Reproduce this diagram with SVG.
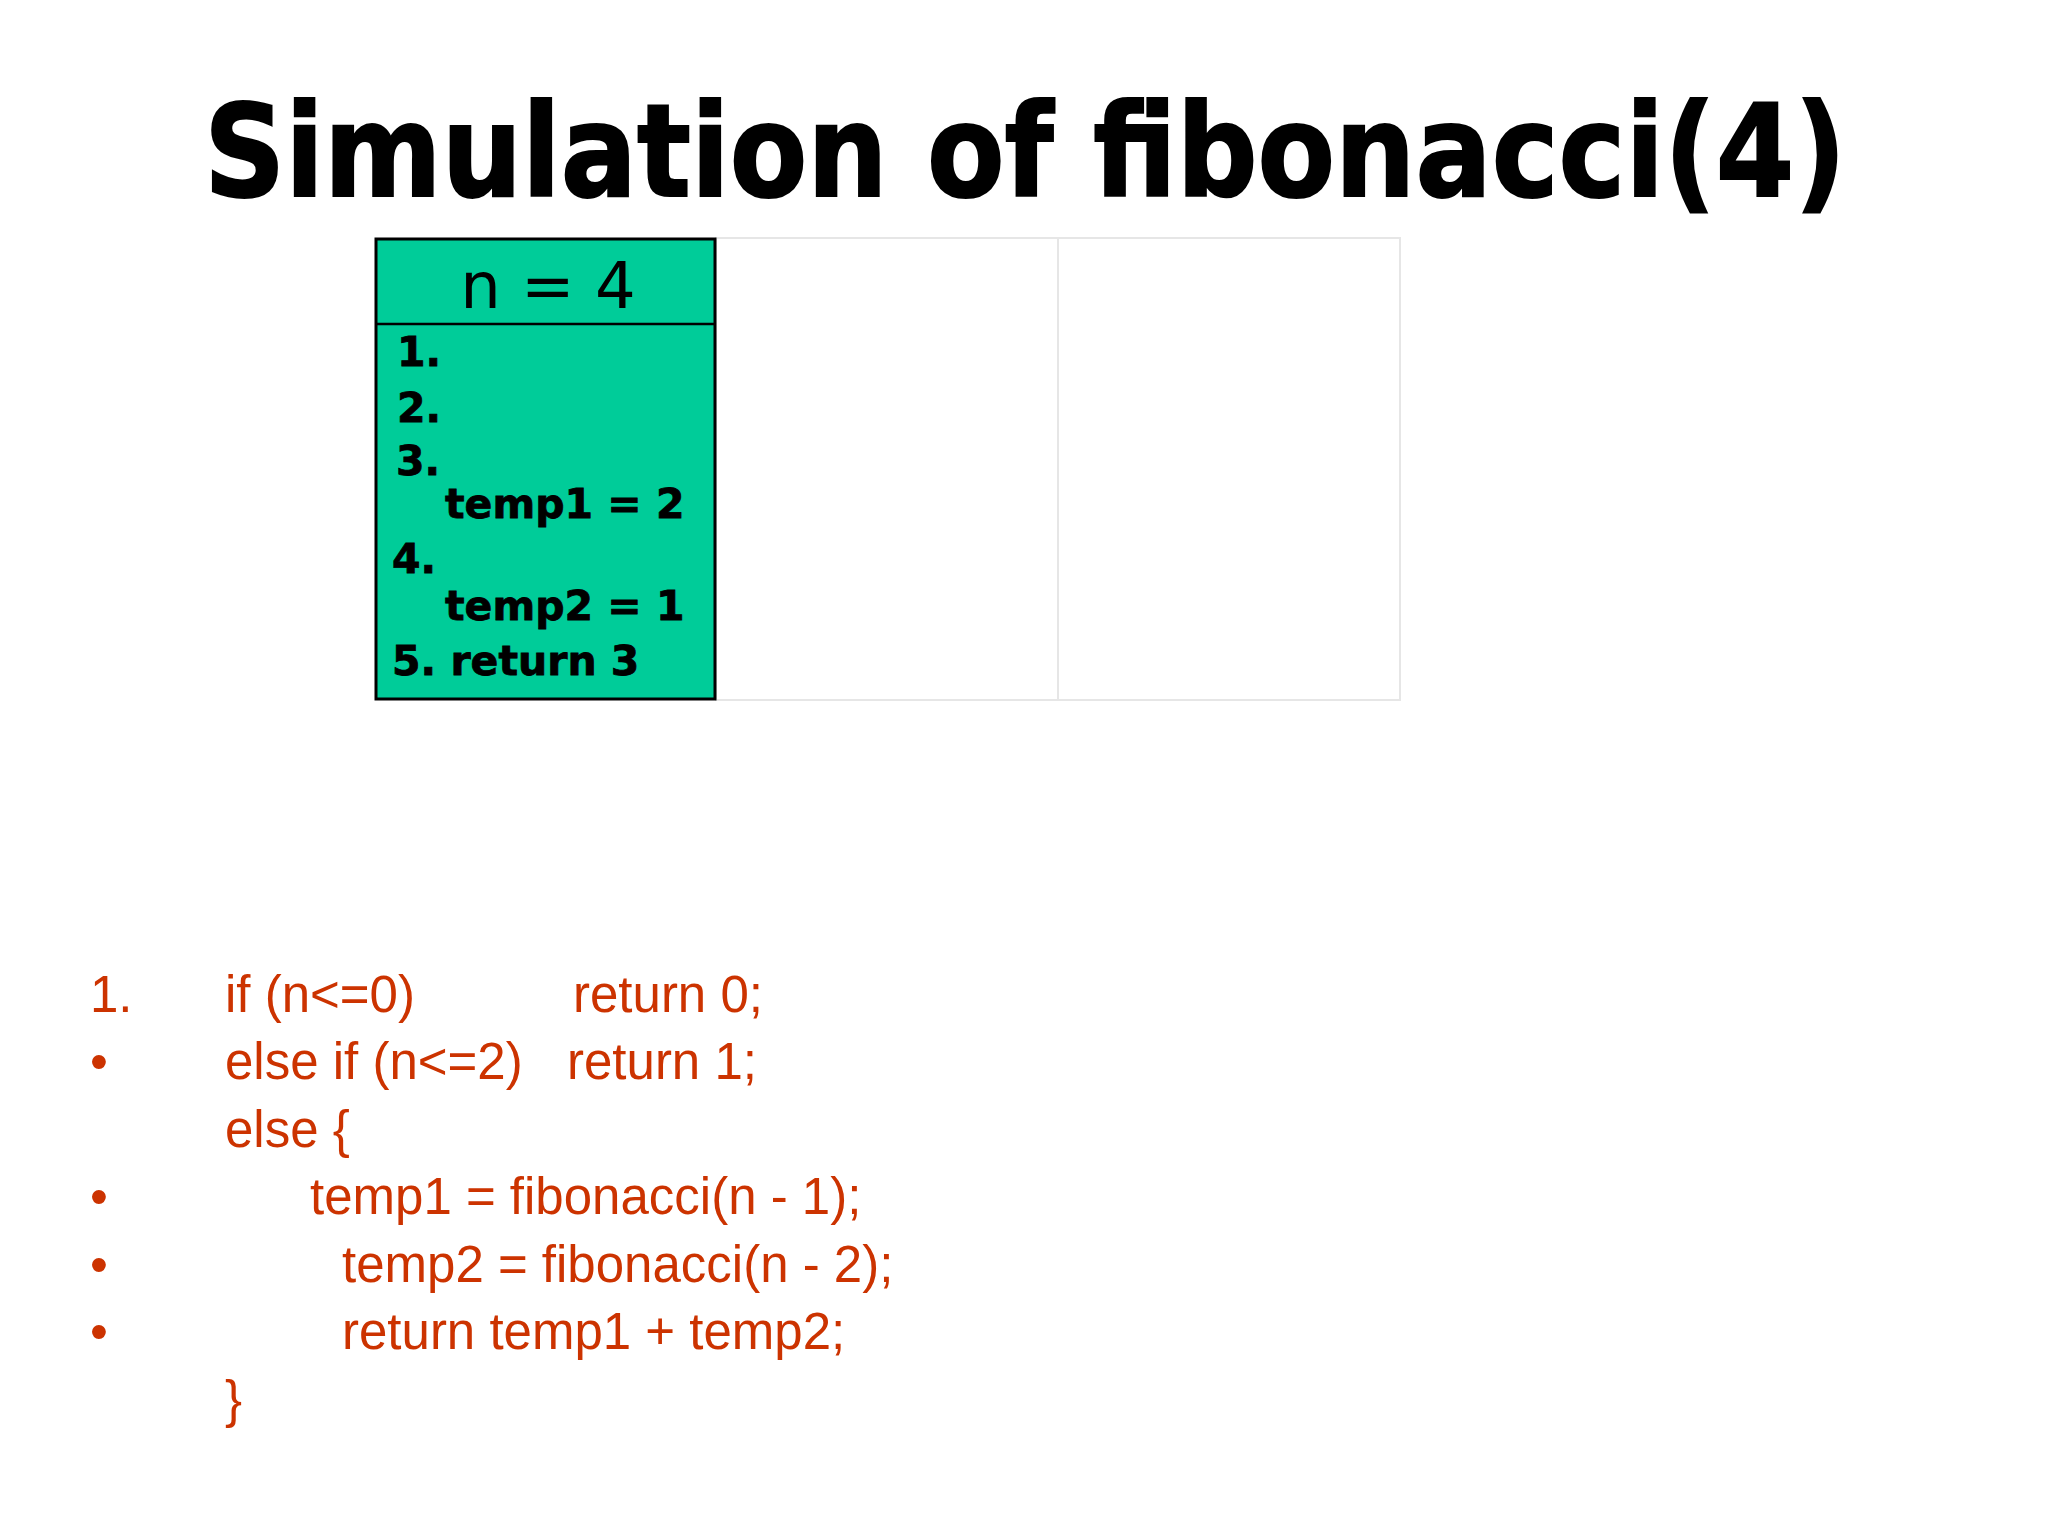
<svg xmlns="http://www.w3.org/2000/svg" width="2048" height="1536" viewBox="0 0 2048 1536">
<style>
.title{font-family:"DejaVu Sans",Verdana,sans-serif;font-weight:bold;font-size:128px;fill:#000;stroke:#000;stroke-width:2}
.head{font-family:"DejaVu Sans",Verdana,sans-serif;font-size:64px;fill:#000}
.body{font-family:"DejaVu Sans",Verdana,sans-serif;font-weight:bold;font-size:41px;fill:#000;stroke:#000;stroke-width:0.8}
.code{font-family:"Liberation Sans",Arial,sans-serif;font-size:51px;fill:#CC3300}
.cell{fill:#fff;stroke:#e6e6e6;stroke-width:2}
</style>
<rect width="2048" height="1536" fill="#fff"/>
<g id="title">
<text class="title" x="204" y="196" textLength="1642" lengthAdjust="spacingAndGlyphs">Simulation of fibonacci(4)</text>
</g>
<g id="cell2"><rect class="cell" x="716" y="238" width="342" height="462"/></g>
<g id="cell3"><rect class="cell" x="1058" y="238" width="342" height="462"/></g>
<g id="frame-n4">
<rect x="376" y="239" width="339" height="460" fill="#00CC99" stroke="#000" stroke-width="3"/>
<line x1="376" y1="324" x2="715" y2="324" stroke="#000" stroke-width="2.5"/>
<text class="head" x="548" y="308" text-anchor="middle">n = 4</text>
<text class="body" x="397" y="366">1.</text>
<text class="body" x="397" y="422">2.</text>
<text class="body" x="396" y="475">3.</text>
<text class="body" x="445" y="518">temp1 = 2</text>
<text class="body" x="392" y="573">4.</text>
<text class="body" x="445" y="620">temp2 = 1</text>
<text class="body" x="392" y="675">5. return 3</text>
</g>
<g id="connectors"></g>
<g id="code">
<text class="code" x="90" y="1012">1.</text>
<text class="code" x="225" y="1012">if (n&lt;=0)</text>
<text class="code" x="573" y="1012">return 0;</text>
<text class="code" x="90" y="1079">•</text>
<text class="code" x="225" y="1079">else if (n&lt;=2)</text>
<text class="code" x="567" y="1079">return 1;</text>
<text class="code" x="225" y="1147">else {</text>
<text class="code" x="90" y="1214">•</text>
<text class="code" x="310" y="1214">temp1 = fibonacci(n - 1);</text>
<text class="code" x="90" y="1282">•</text>
<text class="code" x="342" y="1282">temp2 = fibonacci(n - 2);</text>
<text class="code" x="90" y="1349">•</text>
<text class="code" x="342" y="1349">return temp1 + temp2;</text>
<text class="code" x="225" y="1417">}</text>
</g>
</svg>
